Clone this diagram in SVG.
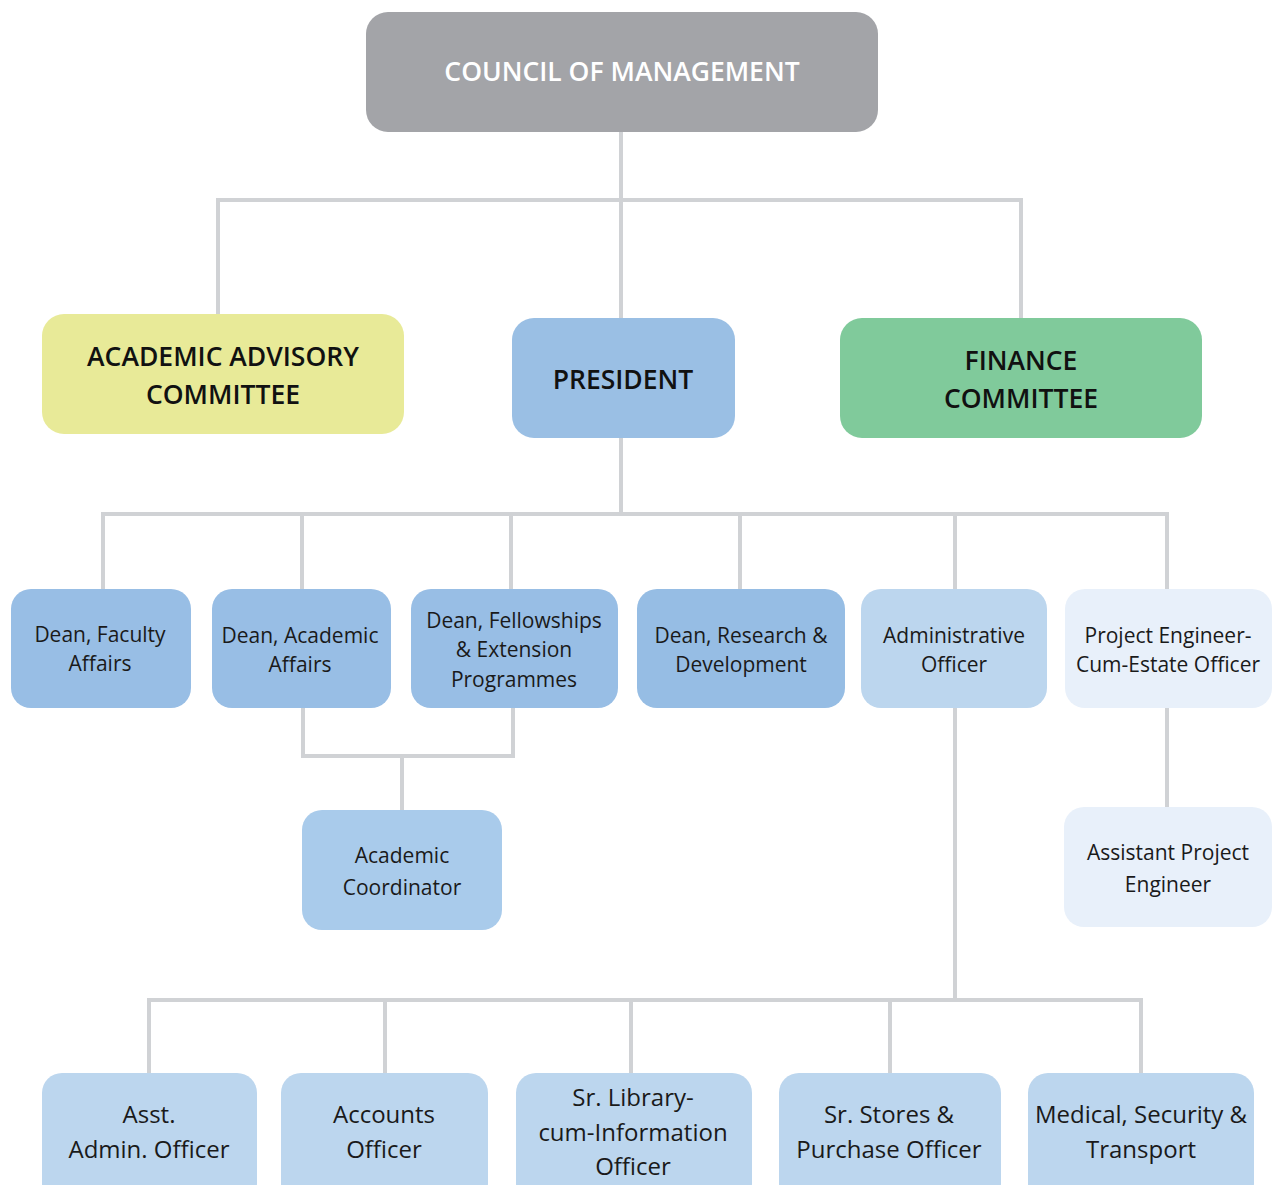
<svg xmlns="http://www.w3.org/2000/svg" width="1274" height="1185" viewBox="0 0 1274 1185">
  <style>
    .wire { fill: none; stroke: #d0d2d5; stroke-width: 4; }
    .title { font-family: "Open Sans", "Liberation Sans", sans-serif; font-weight: 600; font-size: 26.5px; text-anchor: middle; }
    .lbl { font-family: "Open Sans", "Liberation Sans", sans-serif; font-size: 21px; fill: #1a1a1a; text-anchor: middle; }
    .lbl2 { font-family: "Open Sans", "Liberation Sans", sans-serif; font-size: 24px; fill: #1a1a1a; text-anchor: middle; }
    .dean { fill: #98bee5; }
    .staff { fill: #bcd6ee; }
    .pale { fill: #e8f0fa; }
  </style>
  <rect width="1274" height="1185" fill="#ffffff"/>

  <!-- connectors -->
  <g id="connectors">
    <path class="wire" d="M621,132 V318 M218,314 V200 H1021 V318"/>
    <path class="wire" d="M621,438 V514 M103,589 V514 H1167 V589 M302,514 V589 M511,514 V589 M740,514 V589 M955,514 V589"/>
    <path class="wire" d="M303,708 V756 H513 V708 M402,756 V810"/>
    <path class="wire" d="M1167,708 V807"/>
    <path class="wire" d="M955,708 V1000 M149,1073 V1000 H1141 V1073 M385,1000 V1073 M631,1000 V1073 M890,1000 V1073"/>
  </g>

  <g id="council">
    <rect x="366" y="12" width="512" height="120" rx="22" fill="#a3a4a8"/>
    <text class="title" x="622" y="81" fill="#ffffff">COUNCIL OF MANAGEMENT</text>
  </g>

  <g id="academic-advisory">
    <rect x="42" y="314" width="362" height="120" rx="22" fill="#e8ea98"/>
    <text class="title" x="223" y="366" fill="#111">ACADEMIC ADVISORY</text>
    <text class="title" x="223" y="404" fill="#111">COMMITTEE</text>
  </g>

  <g id="president">
    <rect x="512" y="318" width="223" height="120" rx="22" fill="#9abfe4"/>
    <text class="title" x="623" y="389" fill="#111">PRESIDENT</text>
  </g>

  <g id="finance">
    <rect x="840" y="318" width="362" height="120" rx="22" fill="#80ca9b"/>
    <text class="title" x="1021" y="370" fill="#111">FINANCE</text>
    <text class="title" x="1021" y="408" fill="#111">COMMITTEE</text>
  </g>

  <g id="dean-faculty">
    <rect class="dean" x="11" y="589" width="180" height="119" rx="20"/>
    <text class="lbl" x="100" y="642">Dean, Faculty</text>
    <text class="lbl" x="100" y="671">Affairs</text>
  </g>

  <g id="dean-academic">
    <rect class="dean" x="212" y="589" width="179" height="119" rx="20"/>
    <text class="lbl" x="300" y="643">Dean, Academic</text>
    <text class="lbl" x="300" y="672">Affairs</text>
  </g>

  <g id="dean-fellowships">
    <rect class="dean" x="411" y="589" width="207" height="119" rx="20"/>
    <text class="lbl" x="514" y="628">Dean, Fellowships</text>
    <text class="lbl" x="514" y="657">&amp; Extension</text>
    <text class="lbl" x="514" y="687">Programmes</text>
  </g>

  <g id="dean-research">
    <rect x="637" y="589" width="208" height="119" rx="20" fill="#96bde4"/>
    <text class="lbl" x="741" y="643">Dean, Research &amp;</text>
    <text class="lbl" x="741" y="672">Development</text>
  </g>

  <g id="admin-officer">
    <rect class="staff" x="861" y="589" width="186" height="119" rx="20"/>
    <text class="lbl" x="954" y="643">Administrative</text>
    <text class="lbl" x="954" y="672">Officer</text>
  </g>

  <g id="project-engineer">
    <rect class="pale" x="1065" y="589" width="207" height="119" rx="20"/>
    <text class="lbl" x="1168" y="643">Project Engineer-</text>
    <text class="lbl" x="1168" y="672">Cum-Estate Officer</text>
  </g>

  <g id="academic-coordinator">
    <rect x="302" y="810" width="200" height="120" rx="20" fill="#a9cbeb"/>
    <text class="lbl" x="402" y="863">Academic</text>
    <text class="lbl" x="402" y="895">Coordinator</text>
  </g>

  <g id="assistant-project-engineer">
    <rect class="pale" x="1064" y="807" width="208" height="120" rx="20"/>
    <text class="lbl" x="1168" y="860">Assistant Project</text>
    <text class="lbl" x="1168" y="892">Engineer</text>
  </g>

  <g id="asst-admin">
    <rect class="staff" x="42" y="1073" width="215" height="130" rx="20"/>
    <text class="lbl2" x="149" y="1123">Asst.</text>
    <text class="lbl2" x="149" y="1158">Admin. Officer</text>
  </g>

  <g id="accounts">
    <rect class="staff" x="281" y="1073" width="207" height="130" rx="20"/>
    <text class="lbl2" x="384" y="1123">Accounts</text>
    <text class="lbl2" x="384" y="1158">Officer</text>
  </g>

  <g id="library">
    <rect class="staff" x="516" y="1073" width="236" height="130" rx="20"/>
    <text class="lbl2" x="633" y="1106">Sr. Library-</text>
    <text class="lbl2" x="633" y="1141">cum-Information</text>
    <text class="lbl2" x="633" y="1175">Officer</text>
  </g>

  <g id="stores">
    <rect class="staff" x="779" y="1073" width="222" height="130" rx="20"/>
    <text class="lbl2" x="889" y="1123">Sr. Stores &amp;</text>
    <text class="lbl2" x="889" y="1158">Purchase Officer</text>
  </g>

  <g id="medical">
    <rect class="staff" x="1028" y="1073" width="226" height="130" rx="20"/>
    <text class="lbl2" x="1141" y="1123">Medical, Security &amp;</text>
    <text class="lbl2" x="1141" y="1158">Transport</text>
  </g>
</svg>
